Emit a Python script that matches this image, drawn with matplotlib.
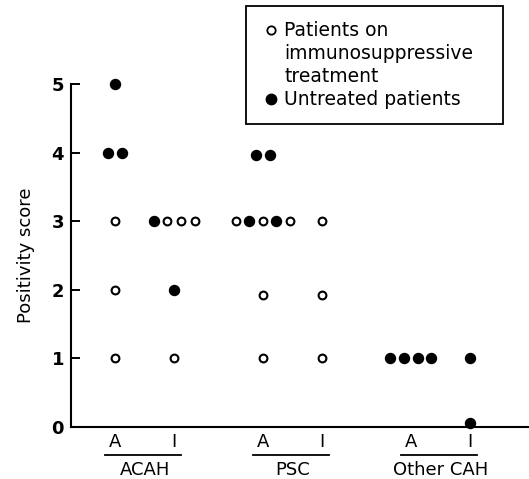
import matplotlib
matplotlib.use('Agg')
import matplotlib.pyplot as plt
from matplotlib.lines import Line2D
from matplotlib.patches import Rectangle

plt.rcParams['font.family'] = ['DejaVu Sans']

groups = ['ACAH', 'PSC', 'Other CAH']
subsets = ['A', 'I']
# each column: (score, row pattern) - 'o' = on immunosuppressive treatment, 'f' = untreated
acah_a = [(5, 'f'), (4, 'ff'), (3, 'o'), (2, 'o'), (1, 'o')]
acah_i = [(3, 'fooo'), (2, 'f'), (1, 'o')]
psc_a = [(3.96, 'ff'), (3, 'ofofo'), (1.92, 'o'), (1, 'o')]
psc_i = [(3, 'o'), (1.92, 'o'), (1, 'o')]
other_a = [(1, 'ffff')]
other_i = [(1, 'f'), (0.06, 'f')]
columns = [acah_a, acah_i, psc_a, psc_i, other_a, other_i]
col_x = [1, 2, 3.5, 4.5, 6, 7]
yticks = [0, 1, 2, 3, 4, 5]

fig = plt.figure(figsize=(5.29, 4.79), dpi=100)
ax = fig.add_axes([0.134, 0.1086, 0.866, 0.716])

step = 0.23
for xc, col in zip(col_x, columns):
    for score, pat in col:
        n = len(pat)
        for k, c in enumerate(pat):
            xx = xc + (k - (n - 1) / 2) * step
            if c == 'f':
                ax.plot(xx, score, 'o', ms=7.2, mfc='black', mec='black', clip_on=False)
            else:
                ax.plot(xx, score, 'o', ms=5.6, mfc='white', mec='black', mew=1.5, clip_on=False)

ax.set_xlim(0.254, 8.0)
ax.set_ylim(0, 5)
ax.set_yticks(yticks)
ax.set_yticklabels([str(t) for t in yticks], fontsize=13, fontweight='bold')
ax.set_xticks([])
ax.spines['top'].set_visible(False)
ax.spines['right'].set_visible(False)
ax.spines['left'].set_linewidth(1.5)
ax.spines['bottom'].set_linewidth(1.5)
ax.tick_params(axis='y', direction='in', length=6.5, width=1.4, pad=5)
ax.set_ylabel('Positivity score', fontsize=13, labelpad=12)

# group labels under the axis
tr = ax.get_xaxis_transform()
for g, name in enumerate(groups):
    xa, xi = col_x[2 * g], col_x[2 * g + 1]
    for xx, s in zip([xa, xi], subsets):
        ax.text(xx, -0.044, s, transform=tr, ha='center', va='center', fontsize=13)
    ax.add_line(Line2D([xa - 0.17, xi + 0.12], [-0.082, -0.082], transform=tr,
                       color='black', lw=1.3, clip_on=False))
    ax.text((xa + xi) / 2, -0.124, name, transform=tr, ha='center', va='center', fontsize=13)

# legend box
fig.add_artist(Rectangle((0.465, 0.741), 0.486, 0.2465, transform=fig.transFigure,
                         fill=False, ec='black', lw=1.3))
fig.add_artist(Line2D([0.512], [0.937], marker='o', ms=6, mfc='white', mec='black', mew=1.3,
                      transform=fig.transFigure))
fig.add_artist(Line2D([0.512], [0.793], marker='o', ms=7.5, mfc='black', mec='black',
                      transform=fig.transFigure))
leg_lines = ['Patients on', 'immunosuppressive', 'treatment', 'Untreated patients']
leg_y = [0.937, 0.889, 0.841, 0.793]
for t, yy in zip(leg_lines, leg_y):
    fig.text(0.537, yy, t, fontsize=13.5, va='center', ha='left')

fig.savefig('out.png', dpi=100)
